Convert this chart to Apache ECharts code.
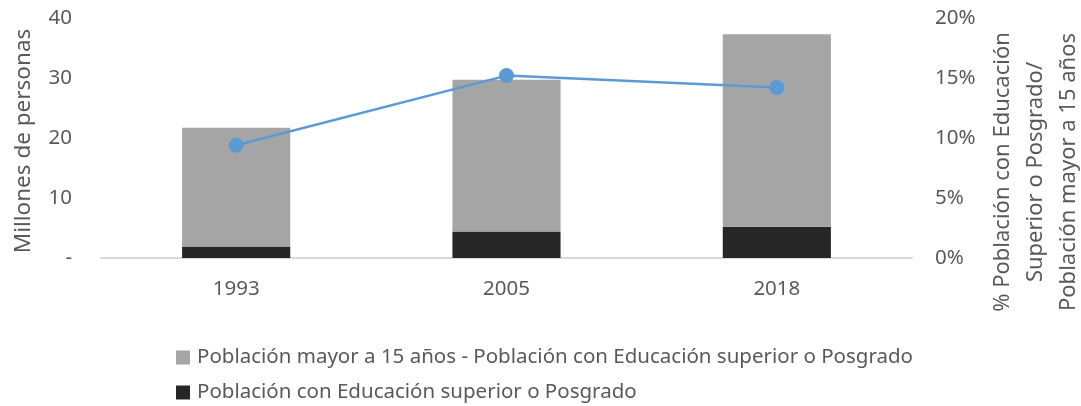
<!DOCTYPE html>
<html>
<head>
<meta charset="utf-8">
<script src="https://cdn.jsdelivr.net/npm/echarts@6/dist/echarts.min.js"></script>
<style>
  html, body { margin: 0; padding: 0; background: #fff; }
  #chart { width: 1081px; height: 406px; }
</style>
</head>
<body>
<div id="chart"></div>
<script>
// datos
const years = ['1993', '2005', '2018'];
const restoPoblacion = [19.8, 25.3, 32.1];   // mayor a 15 años - superior/posgrado (millones)
const superiorPosgrado = [1.9, 4.4, 5.2];    // educación superior o posgrado (millones)
const porcentaje = [0.094, 0.152, 0.142];    // % superior/posgrado sobre mayor a 15 años
const leftTicks = { min: 0, max: 40, interval: 10 };
const rightTicks = { min: 0, max: 0.2, interval: 0.05 };

const nameResto = 'Población mayor a 15 años - Población con Educación superior o Posgrado';
const nameSup = 'Población con Educación superior o Posgrado';

const FONT = 'Noto Sans';
const TXT = '#595959';

const chart = echarts.init(document.getElementById('chart'));

// una leyenda por renglón, como en el original
const legendBase = {
  orient: 'horizontal',
  left: 176,
  padding: 0,
  itemWidth: 14,
  itemHeight: 14,
  icon: 'rect',
  textStyle: { color: TXT, fontSize: 20.5, fontFamily: FONT, padding: [0, 0, 0, 2] },
  selectedMode: false
};

const option = {
  animation: false,
  textStyle: { fontFamily: FONT },
  grid: { left: 101, right: 169, top: 18, bottom: 148, outerBoundsMode: 'none', containLabel: false },
  legend: [
    Object.assign({}, legendBase, { top: 347, data: [nameResto] }),
    Object.assign({}, legendBase, { top: 382, data: [nameSup] })
  ],
  xAxis: {
    type: 'category',
    data: years,
    axisLine: { show: true, lineStyle: { color: '#D9D9D9', width: 2 } },
    axisTick: { show: false },
    axisLabel: { color: TXT, fontSize: 20.5, margin: 21 },
    splitLine: { show: false }
  },
  yAxis: [
    {
      type: 'value',
      min: leftTicks.min,
      max: leftTicks.max,
      interval: leftTicks.interval,
      name: 'Millones de personas',
      nameLocation: 'middle',
      nameGap: 66,
      nameTextStyle: { color: TXT, fontSize: 22.5, padding: [0, 6, 0, 0] },
      axisLine: { show: false },
      axisTick: { show: false },
      splitLine: { show: false },
      axisLabel: {
        color: TXT, fontSize: 20.5, margin: 29,
        formatter: v => v === 0 ? '-' : String(v)
      }
    },
    {
      type: 'value',
      min: rightTicks.min,
      max: rightTicks.max,
      interval: rightTicks.interval,
      name: '% Población con Educación\nSuperior o Posgrado/\nPoblación mayor a 15 años',
      nameLocation: 'middle',
      nameGap: 74,
      nameTextStyle: { color: TXT, fontSize: 22, lineHeight: 33, align: 'center', padding: [0, 68, 0, 0] },
      axisLine: { show: false },
      axisTick: { show: false },
      splitLine: { show: false },
      axisLabel: {
        color: TXT, fontSize: 20.5, margin: 23,
        formatter: v => Math.round(v * 100) + '%'
      }
    }
  ],
  series: [
    {
      name: nameSup,
      type: 'bar',
      stack: 'pob',
      barWidth: '40%',
      data: superiorPosgrado,
      itemStyle: { color: '#262626' }
    },
    {
      name: nameResto,
      type: 'bar',
      stack: 'pob',
      barWidth: '40%',
      data: restoPoblacion,
      itemStyle: { color: '#A5A5A5' }
    },
    {
      name: 'porcentaje',
      type: 'line',
      yAxisIndex: 1,
      data: porcentaje,
      symbol: 'circle',
      symbolSize: 15,
      lineStyle: { color: '#5B9BD5', width: 2.5 },
      itemStyle: { color: '#5B9BD5' },
      z: 5
    }
  ]
};

chart.setOption(option);
</script>
</body>
</html>
